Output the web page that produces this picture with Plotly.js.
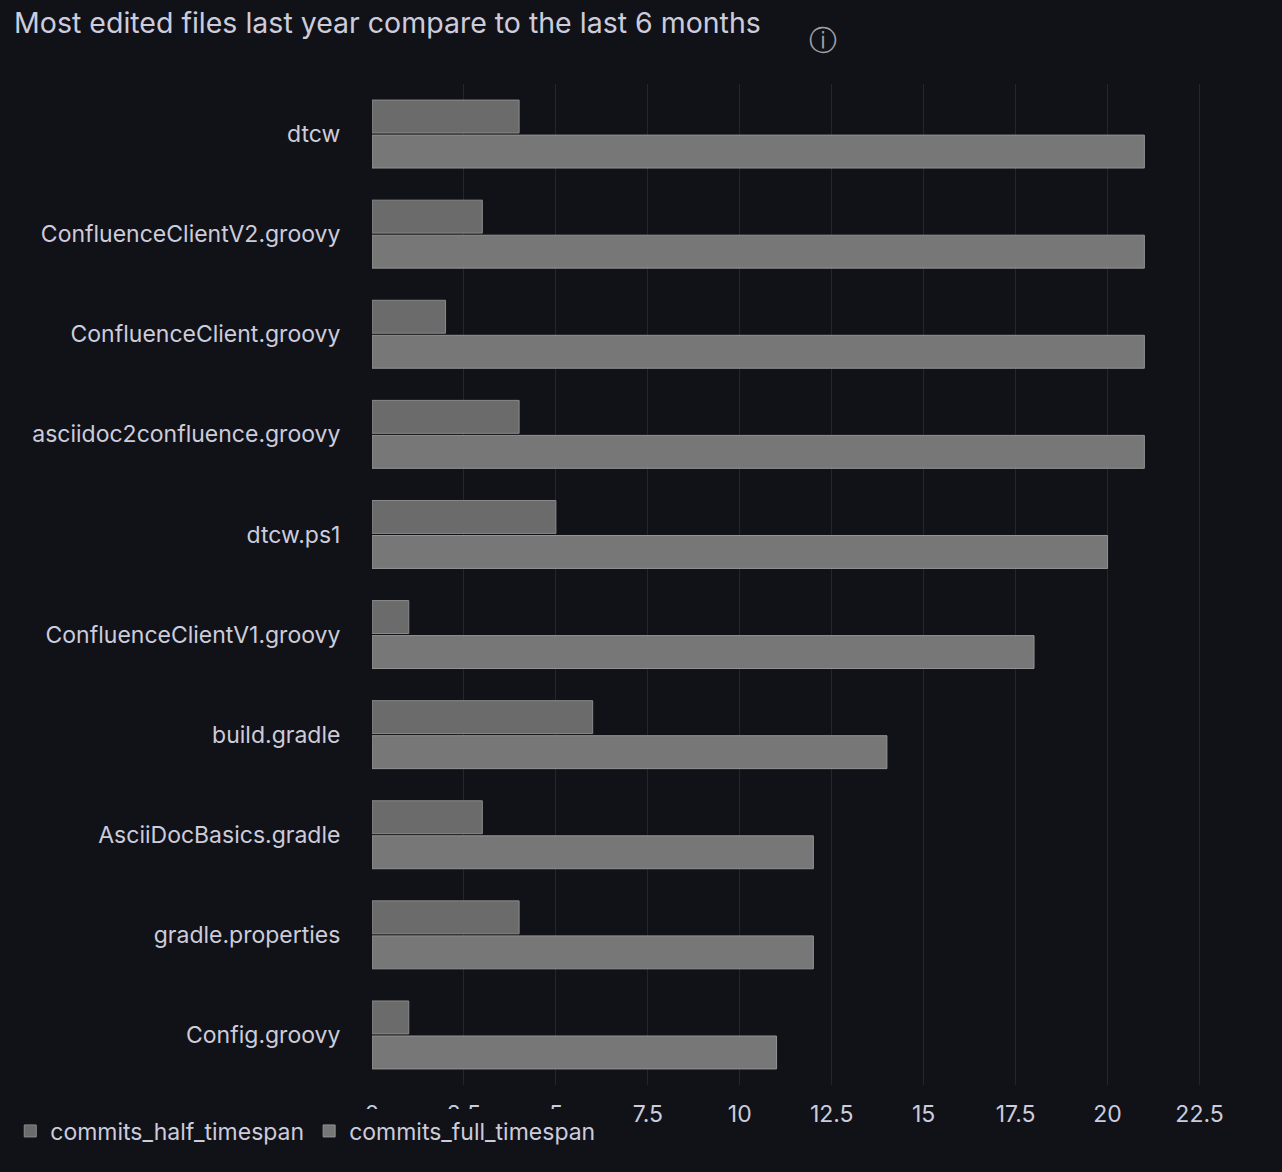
<!DOCTYPE html>
<html>
<head>
<meta charset="utf-8">
<script src="https://cdn.plot.ly/plotly-3.0.1.min.js"></script>
<style>
  body { margin: 0; background: #111217; }
  #chart { width: 1282px; height: 1172px; }
</style>
</head>
<body>
<div id="chart"></div>
<script>
var files = ["dtcw", "ConfluenceClientV2.groovy", "ConfluenceClient.groovy", "asciidoc2confluence.groovy",
  "dtcw.ps1", "ConfluenceClientV1.groovy", "build.gradle", "AsciiDocBasics.gradle",
  "gradle.properties", "Config.groovy"];
var halfTimespan = [4, 3, 2, 4, 5, 1, 6, 3, 4, 1];
var fullTimespan = [21, 21, 21, 21, 20, 18, 14, 12, 12, 11];
var tickVals = [0, 2.5, 5, 7.5, 10, 12.5, 15, 17.5, 20, 22.5];

var trace1 = {
  type: 'bar', orientation: 'h', name: 'commits_half_timespan',
  y: files, x: halfTimespan,
  marker: { color: '#6b6b6b', line: { color: '#8a8a8a', width: 1 } },
  hoverinfo: 'x'
};
var trace2 = {
  type: 'bar', orientation: 'h', name: 'commits_full_timespan',
  y: files, x: fullTimespan,
  marker: { color: '#777777', line: { color: '#939393', width: 1 } },
  hoverinfo: 'x'
};

var layout = {
  width: 1282, height: 1172,
  paper_bgcolor: '#111217', plot_bgcolor: '#111217',
  font: { family: 'Inter, sans-serif', size: 23, color: '#ccccdc' },
  margin: { l: 372, r: 42, t: 84, b: 87 },
  barmode: 'group', bargap: 0.3, bargroupgap: 0.06,
  title: { text: 'Most edited files last year compare to the last 6 months',
    x: 0.011, xanchor: 'left', y: 0.98, yanchor: 'middle',
    font: { size: 28.5, color: '#ccccdc' } },
  xaxis: { range: [0, 23.6], tickvals: tickVals, showgrid: true,
    gridcolor: '#24262c', zeroline: false, showline: false, ticks: 'outside',
    ticklen: 8, tickcolor: 'rgba(0,0,0,0)' },
  yaxis: { autorange: 'reversed', showgrid: false, ticks: 'outside', ticklen: 26,
    tickcolor: 'rgba(0,0,0,0)', showline: false },
  showlegend: true,
  legend: { orientation: 'h', xref: 'container', yref: 'container', x: 0.008, xanchor: 'left',
    y: 0.035, yanchor: 'middle', traceorder: 'normal', font: { size: 23, color: '#ccccdc' } },
  annotations: [{ xref: 'paper', yref: 'paper', x: (823 - 372) / 868, y: 1.063,
    text: 'ⓘ', showarrow: false, font: { size: 28, color: '#9fa1a8' } }]
};

Plotly.newPlot('chart', [trace1, trace2], layout, { displayModeBar: false });
</script>
</body>
</html>
